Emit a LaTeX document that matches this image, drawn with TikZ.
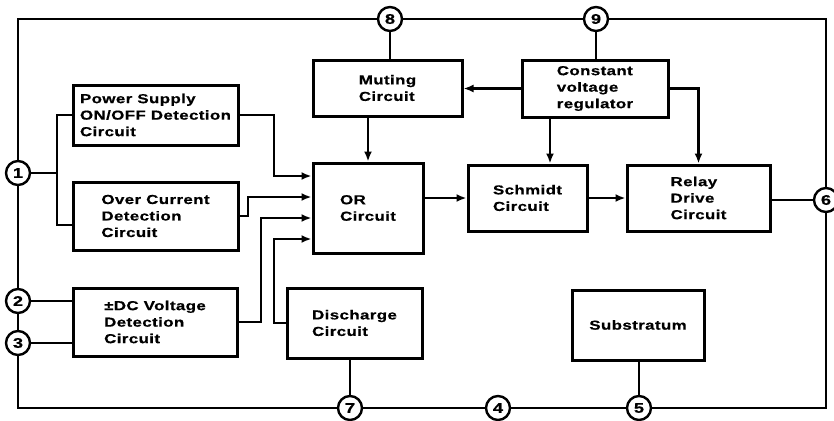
\documentclass[tikz,border=0pt]{standalone}
\usepackage{fontspec}
\setmainfont{Liberation Sans}[FakeStretch=1.3, LetterSpace=3, BoldFeatures={FakeBold=0.6}]
\usetikzlibrary{arrows.meta}
\begin{document}
\begin{tikzpicture}[x=1pt,y=-1pt,
  box/.style={draw, line width=3pt, align=left, inner sep=0pt,
    font=\bfseries\fontsize{13}{16.5}\selectfont},
  pin/.style={circle, draw, line width=2.4pt, fill=white, minimum size=24pt,
    inner sep=0pt, font=\bfseries\fontsize{14}{14}\selectfont},
  wire/.style={line width=2.6pt},
  arr/.style={wire, -{Latex[length=10pt,width=8pt]}},
  frame/.style={line width=2.6pt, line join=miter}]
\useasboundingbox (0,0) rectangle (834,420);

% pins
\node[pin] (p1) at (18,173) {1};
\node[pin] (p2) at (18,301) {2};
\node[pin] (p3) at (18,343) {3};
\node[pin] (p8) at (390,19) {8};
\node[pin] (p9) at (596,19) {9};
\node[pin] (p6) at (826,200) {6};
\node[pin] (p7) at (350,408) {7};
\node[pin] (p4) at (498,408) {4};
\node[pin] (p5) at (639,408) {5};

% boxes
\node[box, minimum width=165pt, minimum height=60pt] (ps) at (155.5,115) {Power Supply\\ON/OFF Detection\\Circuit};
\node[box, minimum width=165pt, minimum height=68pt] (oc) at (155.5,216) {Over Current\\Detection\\Circuit};
\node[box, minimum width=164pt, minimum height=68pt] (dc) at (155,322) {±DC Voltage\\Detection\\Circuit};
\node[box, minimum width=135pt, minimum height=70pt] (dis) at (354.5,323) {Discharge\\Circuit};
\node[box, minimum width=149pt, minimum height=56pt] (mut) at (387.5,88) {Muting\\Circuit};
\node[box, minimum width=110pt, minimum height=90pt] (orc) at (368,208) {OR\\Circuit};
\node[box, minimum width=146pt, minimum height=57pt] (cvr) at (595,88.5) {Constant\\voltage\\regulator};
\node[box, minimum width=119pt, minimum height=66pt] (sch) at (527.5,198) {Schmidt\\Circuit};
\node[box, minimum width=143pt, minimum height=66pt] (rel) at (698.5,198) {Relay\\Drive\\Circuit};
\node[box, minimum width=132pt, minimum height=70pt] (sub) at (638,325) {Substratum};

% outer frame
\draw[frame] (p1.north) |- (p8.west);
\draw[frame] (p8.east) -- (p9.west);
\draw[frame] (p9.east) -| (p6.north);
\draw[frame] (p6.south) |- (p5.east);
\draw[frame] (p5.west) -- (p4.east);
\draw[frame] (p4.west) -- (p7.east);
\draw[frame] (p7.west) -| (p3.south);
\draw[frame] (p3.north) -- (p2.south);
\draw[frame] (p2.north) -- (p1.south);

% pin connections
\draw[wire] (p1.east) -- (57,173);
\draw[wire] (ps.west) -| (57,225) -- (oc.west |- 0,225);
\draw[wire] (p2.east) -- (dc.west |- p2);
\draw[wire] (p3.east) -- (dc.west |- p3);
\draw[wire] (p8.south) -- (p8.south |- mut.north);
\draw[wire] (p9.south) -- (p9.south |- cvr.north);
\draw[wire] (p7.north) -- (p7.north |- dis.south);
\draw[wire] (p5.north) -- (p5.north |- sub.south);
\draw[wire] (p6.west) -- (p6.west -| rel.east);

% signal flow
\draw[arr] (ps.east) -| (274,176) -- (orc.west |- 0,176);
\draw[arr] (oc.east) -| (248,197) -- (orc.west |- 0,197);
\draw[arr] (dc.east) -| (261,218) -- (orc.west |- 0,218);
\draw[arr] (dis.west) -| (274,239) -- (orc.west |- 0,239);
\draw[arr] (orc.north |- mut.south) -- (orc.north);
\draw[arr] (cvr.west) -- (cvr.west -| mut.east);
\draw[arr] ([xshift=-45pt]cvr.south) -- ([xshift=-45pt]cvr.south |- sch.north);
\draw[arr] (cvr.east) -| (rel.north);
\draw[arr] (orc.east |- sch.west) -- (sch.west);
\draw[arr] (sch.east) -- (rel.west);
\end{tikzpicture}
\end{document}
